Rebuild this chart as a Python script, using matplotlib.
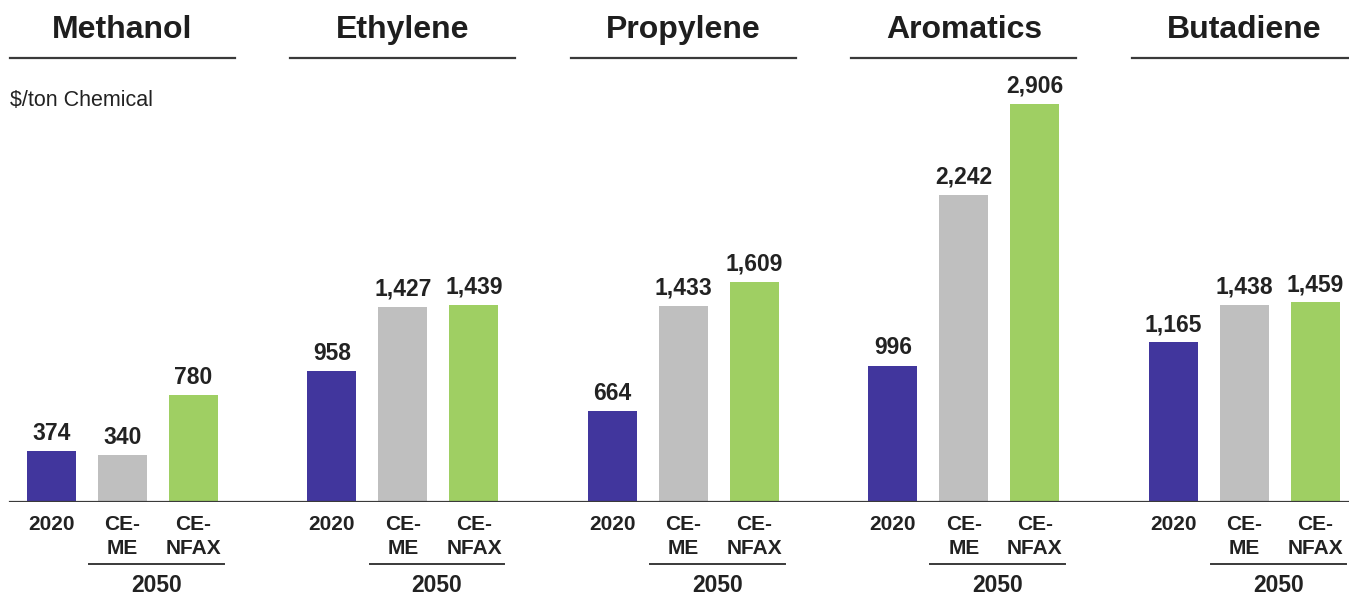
import matplotlib
matplotlib.use("Agg")
import matplotlib.pyplot as plt
from matplotlib.transforms import blended_transform_factory
from matplotlib.lines import Line2D

chemicals = ["Methanol", "Ethylene", "Propylene", "Aromatics", "Butadiene"]
scenarios = ["2020", "CE-\nME", "CE-\nNFAX"]
values_2020 = [374, 958, 664, 996, 1165]
values_ceme = [340, 1427, 1433, 2242, 1438]
values_cenfax = [780, 1439, 1609, 2906, 1459]
unit_label = "$/ton Chemical"
period_label = "2050"

colors = ["#41369D", "#BFBFBF", "#9FCF63"]
W, H = 1349, 594
fig = plt.figure(figsize=(W / 100, H / 100), dpi=100)
base_px = 502
ax = fig.add_axes([0, 1 - base_px / H, 1, base_px / H])
px_per_unit = 71.0
x0_px = 51.5
ax.set_xlim(-x0_px / px_per_unit, (W - x0_px) / px_per_unit)
scale = (502 - 104) / 2906.0
ax.set_ylim(0, base_px / scale)
ax.axis("off")

font = "Liberation Sans"
group_step = 3.95
series = [values_2020, values_ceme, values_cenfax]
tr = blended_transform_factory(ax.transData, fig.transFigure)

def fy(ypx):
    return 1 - ypx / H

for g, chem in enumerate(chemicals):
    base = g * group_step
    for j, vals in enumerate(series):
        x = base + j
        v = vals[g]
        ax.bar(x, v, width=49 / px_per_unit, color=colors[j], zorder=2)
        ax.annotate(f"{v:,}", (x, v), xytext=(0, 8.0), textcoords="offset points",
                    ha="center", va="baseline", fontsize=16.5, fontweight="bold",
                    family=font, color="#222222")
        lines = scenarios[j].split("\n")
        fig.text(x, fy(524), lines[0], transform=tr, ha="center", va="center",
                 fontsize=15, fontweight="bold", family=font, color="#222222")
        if len(lines) > 1:
            fig.text(x, fy(548), lines[1], transform=tr, ha="center", va="center",
                     fontsize=15, fontweight="bold", family=font, color="#222222")
    # header
    cx = base + 1
    fig.text(cx, fy(30), chem, transform=tr, ha="center", va="center",
             fontsize=23, fontweight="bold", family=font, color="#1e1e1e")
    fig.add_artist(Line2D([cx - 1.585, cx + 1.585], [fy(58), fy(58)],
                          transform=tr, color="#3a3a3a", lw=1.6))
    # 2050 bracket
    c2 = base + 1.48
    fig.add_artist(Line2D([c2 - 0.95, c2 + 0.95], [fy(564), fy(564)],
                          transform=tr, color="#3a3a3a", lw=1.4))
    fig.text(c2, fy(585), period_label, transform=tr, ha="center", va="center",
             fontsize=16.5, fontweight="bold", family=font, color="#222222")

ax.axhline(0, xmin=10 / W, xmax=1, color="#3a3a3a", lw=1.6, zorder=3)
fig.text(10 / W, fy(100), unit_label, ha="left", va="center", fontsize=15.5,
         family=font, color="#222222")

fig.savefig("out.png", dpi=100)
